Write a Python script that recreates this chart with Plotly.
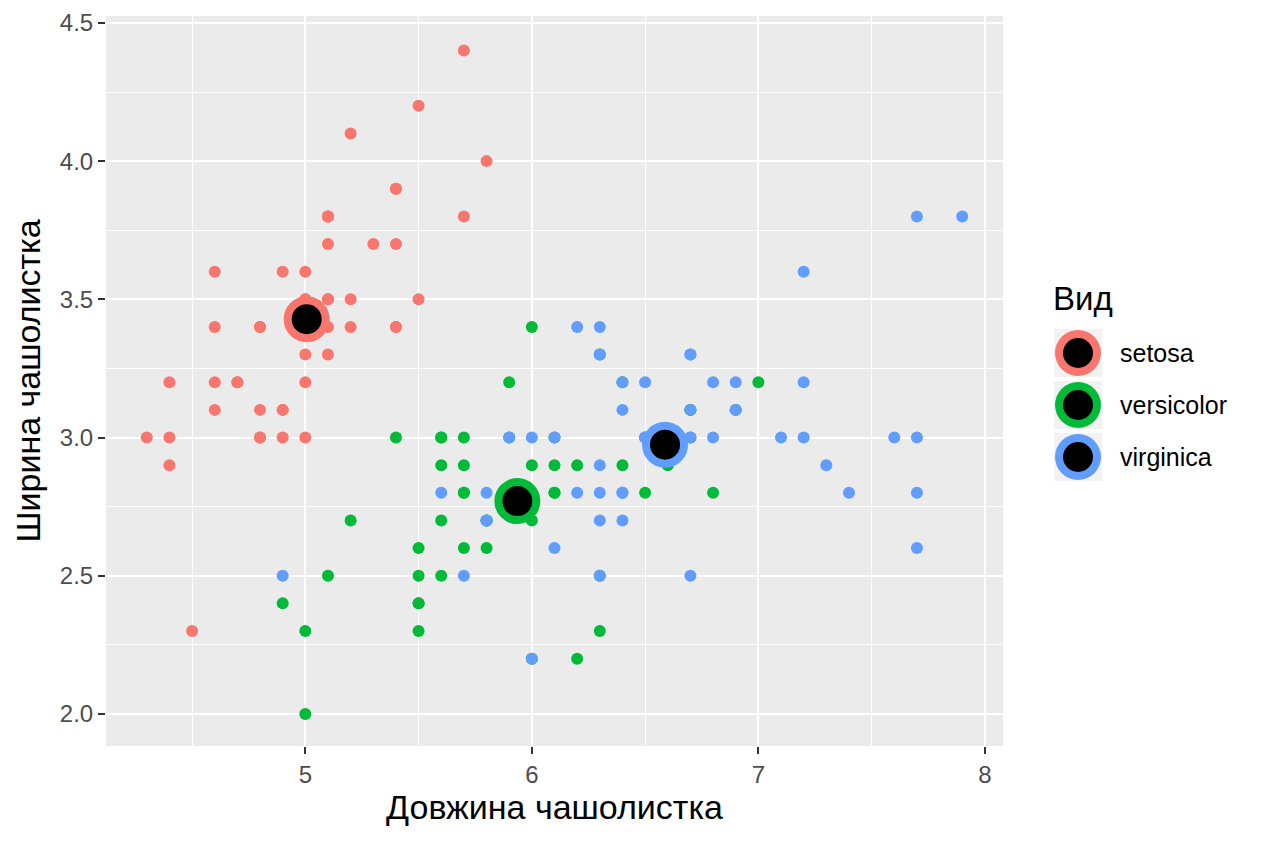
import plotly.graph_objects as go

# iris: довжина / ширина чашолистка
setosa_len = [5.1, 4.9, 4.7, 4.6, 5.0, 5.4, 4.6, 5.0, 4.4, 4.9, 5.4, 4.8, 4.8, 4.3, 5.8, 5.7, 5.4,
              5.1, 5.7, 5.1, 5.4, 5.1, 4.6, 5.1, 4.8, 5.0, 5.0, 5.2, 5.2, 4.7, 4.8, 5.4, 5.2, 5.5,
              4.9, 5.0, 5.5, 4.9, 4.4, 5.1, 5.0, 4.5, 4.4, 5.0, 5.1, 4.8, 5.1, 4.6, 5.3, 5.0]
setosa_wid = [3.5, 3.0, 3.2, 3.1, 3.6, 3.9, 3.4, 3.4, 2.9, 3.1, 3.7, 3.4, 3.0, 3.0, 4.0, 4.4, 3.9,
              3.5, 3.8, 3.8, 3.4, 3.7, 3.6, 3.3, 3.4, 3.0, 3.4, 3.5, 3.4, 3.2, 3.1, 3.4, 4.1, 4.2,
              3.1, 3.2, 3.5, 3.6, 3.0, 3.4, 3.5, 2.3, 3.2, 3.5, 3.8, 3.0, 3.8, 3.2, 3.7, 3.3]
versicolor_len = [7.0, 6.4, 6.9, 5.5, 6.5, 5.7, 6.3, 4.9, 6.6, 5.2, 5.0, 5.9, 6.0, 6.1, 5.6, 6.7,
                  5.6, 5.8, 6.2, 5.6, 5.9, 6.1, 6.3, 6.1, 6.4, 6.6, 6.8, 6.7, 6.0, 5.7, 5.5, 5.5,
                  5.8, 6.0, 5.4, 6.0, 6.7, 6.3, 5.6, 5.5, 5.5, 6.1, 5.8, 5.0, 5.6, 5.7, 5.7, 6.2,
                  5.1, 5.7]
versicolor_wid = [3.2, 3.2, 3.1, 2.3, 2.8, 2.8, 3.3, 2.4, 2.9, 2.7, 2.0, 3.0, 2.2, 2.9, 2.9, 3.1,
                  3.0, 2.7, 2.2, 2.5, 3.2, 2.8, 2.5, 2.8, 2.9, 3.0, 2.8, 3.0, 2.9, 2.6, 2.4, 2.4,
                  2.7, 2.7, 3.0, 3.4, 3.1, 2.3, 3.0, 2.5, 2.6, 3.0, 2.6, 2.3, 2.7, 3.0, 2.9, 2.9,
                  2.5, 2.8]
virginica_len = [6.3, 5.8, 7.1, 6.3, 6.5, 7.6, 4.9, 7.3, 6.7, 7.2, 6.5, 6.4, 6.8, 5.7, 5.8, 6.4,
                 6.5, 7.7, 7.7, 6.0, 6.9, 5.6, 7.7, 6.3, 6.7, 7.2, 6.2, 6.1, 6.4, 7.2, 7.4, 7.9,
                 6.4, 6.3, 6.1, 7.7, 6.3, 6.4, 6.0, 6.9, 6.7, 6.9, 5.8, 6.8, 6.7, 6.7, 6.3, 6.5,
                 6.2, 5.9]
virginica_wid = [3.3, 2.7, 3.0, 2.9, 3.0, 3.0, 2.5, 2.9, 2.5, 3.6, 3.2, 2.7, 3.0, 2.5, 2.8, 3.2,
                 3.0, 3.8, 2.6, 2.2, 3.2, 2.8, 2.8, 2.7, 3.3, 3.2, 2.8, 3.0, 2.8, 3.0, 2.8, 3.8,
                 2.8, 2.8, 2.6, 3.0, 3.4, 3.1, 3.0, 3.1, 3.1, 3.1, 2.7, 3.2, 3.3, 3.0, 2.5, 3.0,
                 3.4, 3.0]

species = ["setosa", "versicolor", "virginica"]
colors = ["#F8766D", "#00BA38", "#619CFF"]
series = [(setosa_len, setosa_wid), (versicolor_len, versicolor_wid), (virginica_len, virginica_wid)]

x_ticks = [5, 6, 7, 8]
y_ticks = [2.0, 2.5, 3.0, 3.5, 4.0, 4.5]

# середні значення по видах
centroid_len = [sum(s[0]) / len(s[0]) for s in series]
centroid_wid = [sum(s[1]) / len(s[1]) for s in series]

OFF = 8  # відступ сторінки
W, H = 1264 - OFF, 843 - OFF
# межі панелі в координатах екрана
L, R, T, B = 106 - OFF, 1003 - OFF, 16 - OFF, 746 - OFF


def px_x(p):
    return (p - OFF - L) / (R - L)


def px_y(p):
    return (B - (p - OFF)) / (B - T)


fig = go.Figure()

for (xs, ys), name, col in zip(series, species, colors):
    fig.add_trace(go.Scatter(x=xs, y=ys, mode="markers", name=name, showlegend=False,
                             marker=dict(color=col, size=12, line=dict(width=0))))

for i, col in enumerate(colors):
    fig.add_trace(go.Scatter(x=[centroid_len[i]], y=[centroid_wid[i]], mode="markers",
                             showlegend=False,
                             marker=dict(color="black", size=38, line=dict(color=col, width=8))))

# легенда вручну
shapes = []
annotations = [dict(text="Вид", xref="paper", yref="paper", x=px_x(1051), y=px_y(298),
                    xanchor="left", yanchor="middle", showarrow=False,
                    font=dict(size=33, color="black"))]
key_y = [353, 405, 457]
for name, col, ky in zip(species, colors, key_y):
    ax, ay = px_x(1078), px_y(ky)
    shapes.append(dict(type="rect", xref="paper", yref="paper", xsizemode="pixel",
                       ysizemode="pixel", xanchor=ax, yanchor=ay, x0=-24, x1=24, y0=-24, y1=24,
                       fillcolor="#F2F2F2", line=dict(width=0), layer="below"))
    shapes.append(dict(type="circle", xref="paper", yref="paper", xsizemode="pixel",
                       ysizemode="pixel", xanchor=ax, yanchor=ay, x0=-23, x1=23, y0=-23, y1=23,
                       fillcolor=col, line=dict(width=0)))
    shapes.append(dict(type="circle", xref="paper", yref="paper", xsizemode="pixel",
                       ysizemode="pixel", xanchor=ax, yanchor=ay, x0=-15, x1=15, y0=-15, y1=15,
                       fillcolor="black", line=dict(width=0)))
    annotations.append(dict(text=name, xref="paper", yref="paper", x=px_x(1118), y=px_y(ky),
                            xanchor="left", yanchor="middle", showarrow=False,
                            font=dict(size=25, color="black")))

axis_common = dict(showgrid=True, gridcolor="white", gridwidth=2, zeroline=False,
                   ticks="outside", ticklen=7, tickwidth=2, tickcolor="#333333",
                   tickfont=dict(size=24, color="#4D4D4D"), showline=False, automargin=False)

fig.update_layout(
    width=W, height=H,
    margin=dict(l=L, r=W - R, t=T, b=H - B),
    paper_bgcolor="white", plot_bgcolor="#EBEBEB",
    font=dict(family="Liberation Sans, Arial, sans-serif"),
    shapes=shapes, annotations=annotations,
    xaxis=dict(range=[4.12, 8.08], tickvals=x_ticks, ticktext=[str(v) for v in x_ticks],
               minor=dict(tickvals=[4.5, 5.5, 6.5, 7.5], showgrid=True, gridcolor="white",
                          gridwidth=1, ticks=""),
               title=dict(text="Довжина чашолистка", font=dict(size=34, color="black"),
                          standoff=8),
               **axis_common),
    yaxis=dict(range=[1.884, 4.525], tickvals=y_ticks, ticktext=[f"{v:.1f}" for v in y_ticks],
               minor=dict(tickvals=[2.25, 2.75, 3.25, 3.75, 4.25], showgrid=True,
                          gridcolor="white", gridwidth=1, ticks=""),
               title=dict(text="Ширина чашолистка", font=dict(size=34, color="black"),
                          standoff=8),
               **axis_common),
)

fig.write_html("out.html")
